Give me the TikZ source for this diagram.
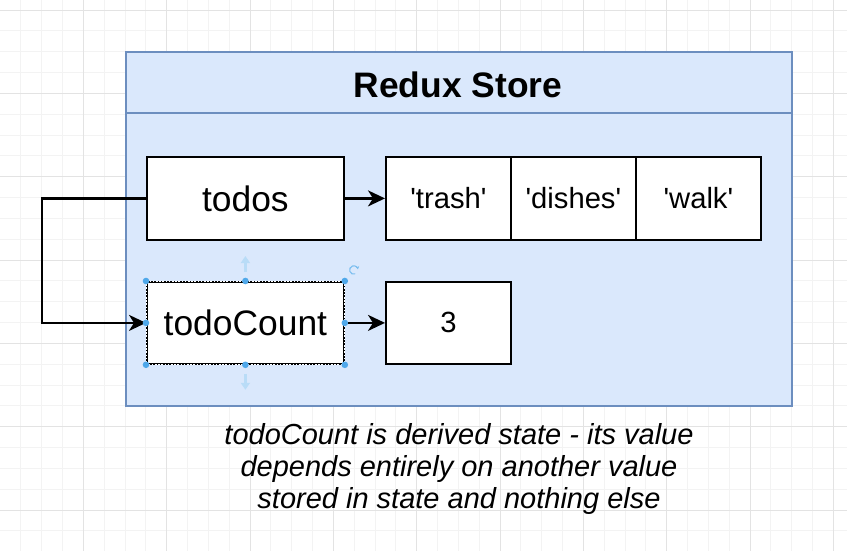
\documentclass[tikz,border=0pt]{standalone}
\usepackage{fontspec}
\setmainfont{Liberation Sans}
\usetikzlibrary{arrows.meta}
\definecolor{storefill}{HTML}{DAE8FC}
\definecolor{storeline}{HTML}{6C8EBF}
\definecolor{gridminor}{HTML}{F3F3F3}
\definecolor{gridmajor}{HTML}{E3E3E3}
\definecolor{handle}{HTML}{4FA8EA}
\begin{document}
\begin{tikzpicture}[x=1pt,y=-1pt,
  cellbox/.style={draw=black, line width=1.8pt, fill=white, inner sep=0pt, anchor=north west,
    minimum width=#1, minimum height=83pt},
  bigtext/.style={font=\fontsize{35.4}{40}\selectfont},
  midtext/.style={font=\fontsize{29.2}{34}\selectfont},
  conn/.style={line width=2.2pt, -{Stealth[length=17pt,width=16pt,inset=5pt]}},
  handlearrow/.style={handle!40, line width=2.4pt, -{Triangle[length=7pt,width=9pt]}}]
\useasboundingbox (0,0) rectangle (847,551);
\fill[white] (0,0) rectangle (847,551);
% grid
\foreach \i in {1,...,40} \draw[gridminor, line width=0.8pt] (\i*20.833,0) -- (\i*20.833,551);
\foreach \i in {0,...,26} \draw[gridminor, line width=0.8pt] (0,10+\i*20.833) -- (847,10+\i*20.833);
\foreach \i in {1,...,10} \draw[gridmajor, line width=0.8pt] (\i*83.333,0) -- (\i*83.333,551);
\foreach \i in {0,...,6} \draw[gridmajor, line width=0.8pt] (0,10+\i*83.333) -- (847,10+\i*83.333);
% store
\node[draw=storeline, fill=storefill, line width=2pt, inner sep=0pt, anchor=north west,
  minimum width=666pt, minimum height=354pt] (store) at (125,51) {};
\draw[storeline, line width=2pt] (store.west |- 0,113) coordinate (hl) -- (store.east |- 0,113) coordinate (hr);
\node[font=\fontsize{35.4}{40}\selectfont\bfseries] (title) at (458,85) {Redux Store};
% cells
\node[cellbox=197pt, bigtext] (todos) at (146,156) {todos};
\node[cellbox=125pt, midtext] (trash) at (385,156) {\textquotesingle trash\textquotesingle};
\node[cellbox=125pt, midtext] (dishes) at (510,156) {\textquotesingle dishes\textquotesingle};
\node[cellbox=125pt, midtext] (walk) at (635,156) {\textquotesingle walk\textquotesingle};
\node[cellbox=197pt, minimum height=82pt, bigtext] (todoCount) at (146,281) {todoCount};
\node[cellbox=125pt, minimum height=82pt, midtext] (three) at (385,281) {3};
% connectors
\draw[conn] (todos.east) -- (trash.west);
\draw[conn] (todoCount.east) -- (three.west);
\draw[conn] (todos.west) -- ++(-104.3,0) |- (todoCount.west);
% selection overlay
\draw[white, line width=0.9pt, dash pattern=on 1.6pt off 1.6pt] (todoCount.north west) rectangle (todoCount.south east);
\foreach \p in {north west, north, north east, west, east, south west, south, south east}
  \fill[handle] (todoCount.\p) circle (3.3pt);
\draw[handlearrow] (todoCount.north) ++(0,-9) -- ++(0,-16);
\draw[handlearrow] (todoCount.south) ++(0,9) -- ++(0,16);
\draw[handle!75, line width=1.1pt, -{Stealth[length=3pt,width=3.5pt]}] (todoCount.north east) ++(9,-11) ++(70:4.2) arc (70:350:4.2);
% caption
\node[align=center, font=\fontsize{29}{32}\selectfont\itshape] (caption) at (459,469)
  {todoCount is derived state - its value\\depends entirely on another value\\stored in state and nothing else};
\end{tikzpicture}
\end{document}
